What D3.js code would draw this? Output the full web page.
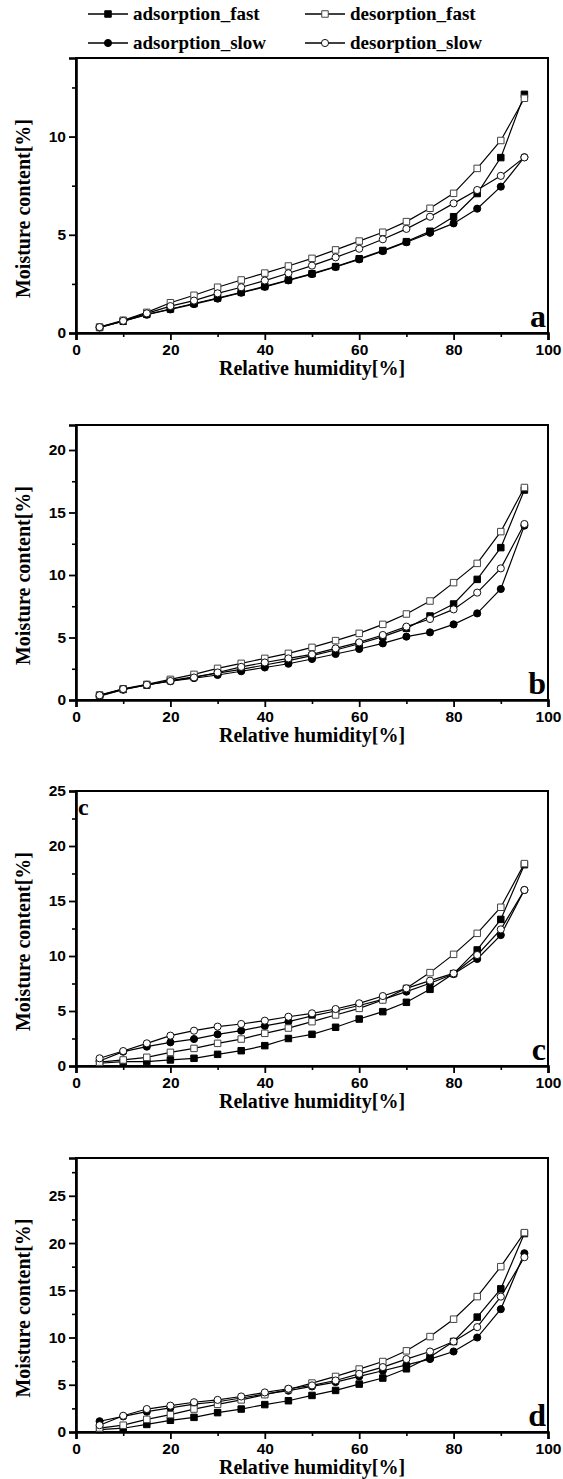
<!DOCTYPE html>
<html>
<head>
<meta charset="utf-8">
<script src="https://cdn.jsdelivr.net/npm/d3@7"></script>
<style>
  body { margin: 0; background: #fff; }
  svg { display: block; }
</style>
</head>
<body>
<svg id="chart"></svg>
<script>
const rh = [5, 10, 15, 20, 25, 30, 35, 40, 45, 50, 55, 60, 65, 70, 75, 80, 85, 90, 95];
const seriesNames = ["adsorption_fast", "adsorption_slow", "desorption_fast", "desorption_slow"];

// panel a
const aAdsFast = [0.28, 0.6, 0.95, 1.22, 1.5, 1.78, 2.07, 2.37, 2.7, 3.02, 3.38, 3.78, 4.2, 4.65, 5.18, 5.92, 7.1, 8.93, 12.15];
const aAdsSlow = [0.28, 0.6, 0.93, 1.2, 1.47, 1.75, 2.05, 2.35, 2.68, 3.0, 3.36, 3.75, 4.17, 4.62, 5.1, 5.58, 6.33, 7.45, 8.95];
const aDesFast = [0.3, 0.65, 1.05, 1.54, 1.92, 2.33, 2.7, 3.05, 3.41, 3.8, 4.23, 4.68, 5.13, 5.67, 6.35, 7.11, 8.38, 9.8, 11.95];
const aDesSlow = [0.3, 0.62, 1.0, 1.37, 1.65, 2.02, 2.33, 2.67, 3.04, 3.43, 3.85, 4.29, 4.77, 5.3, 5.92, 6.6, 7.28, 8.0, 8.94];

// panel b
const bAdsFast = [0.35, 0.85, 1.2, 1.55, 1.85, 2.15, 2.45, 2.8, 3.15, 3.55, 4.0, 4.5, 5.07, 5.73, 6.72, 7.68, 9.65, 12.19, 16.8];
const bAdsSlow = [0.3, 0.82, 1.2, 1.5, 1.75, 2.0, 2.3, 2.6, 2.9, 3.28, 3.68, 4.08, 4.53, 5.07, 5.41, 6.05, 6.93, 8.88, 13.95];
const bDesFast = [0.4, 0.9, 1.25, 1.65, 2.05, 2.53, 2.93, 3.33, 3.73, 4.21, 4.75, 5.33, 6.05, 6.88, 7.92, 9.39, 10.93, 13.47, 17.0];
const bDesSlow = [0.38, 0.88, 1.22, 1.52, 1.8, 2.2, 2.65, 3.0, 3.33, 3.65, 4.13, 4.61, 5.2, 5.87, 6.48, 7.25, 8.59, 10.53, 14.08];

// panel c
const cAdsFast = [0.25, 0.4, 0.4, 0.55, 0.7, 1.06, 1.39, 1.85, 2.5, 2.88, 3.52, 4.27, 4.94, 5.79, 6.97, 8.4, 10.55, 13.33, 18.3];
const cAdsSlow = [0.45, 1.3, 1.76, 2.15, 2.45, 2.88, 3.21, 3.64, 4.03, 4.55, 5.0, 5.5, 6.06, 6.76, 7.52, 8.36, 9.73, 11.9, 16.0];
const cDesFast = [0.35, 0.55, 0.79, 1.24, 1.6, 2.06, 2.45, 2.97, 3.45, 4.03, 4.64, 5.24, 6.0, 7.06, 8.49, 10.15, 12.06, 14.43, 18.4];
const cDesSlow = [0.7, 1.36, 2.06, 2.76, 3.21, 3.58, 3.82, 4.12, 4.48, 4.79, 5.18, 5.7, 6.36, 7.06, 7.76, 8.42, 10.09, 12.42, 16.0];

// panel d
const dAdsFast = [0.25, 0.4, 0.8, 1.24, 1.55, 2.05, 2.43, 2.9, 3.31, 3.87, 4.4, 5.07, 5.71, 6.69, 7.93, 9.58, 12.16, 15.15, 21.0];
const dAdsSlow = [1.14, 1.65, 2.15, 2.55, 2.95, 3.2, 3.6, 4.0, 4.37, 4.82, 5.28, 5.88, 6.48, 7.11, 7.72, 8.52, 10.0, 13.0, 18.92];
const dDesFast = [0.42, 0.72, 1.34, 1.84, 2.43, 2.93, 3.4, 3.95, 4.5, 5.18, 5.88, 6.66, 7.46, 8.59, 10.1, 11.94, 14.33, 17.5, 21.1];
const dDesSlow = [0.72, 1.72, 2.43, 2.79, 3.15, 3.4, 3.76, 4.19, 4.58, 4.93, 5.45, 6.16, 6.87, 7.72, 8.52, 9.58, 11.1, 14.33, 18.5];

const panelLetters = ["a", "b", "c", "d"];
const yMaxes = [14, 22, 25, 29];
const yMajorTicks = [[0, 5, 10], [0, 5, 10, 15, 20], [0, 5, 10, 15, 20, 25], [0, 5, 10, 15, 20, 25]];
const xMajorTicks = [0, 20, 40, 60, 80, 100];
const xMinorTicks = [10, 30, 50, 70, 90];
const xTitle = "Relative humidity[%]";
const yTitle = "Moisture content[%]";

const panelData = [
  [aAdsFast, aAdsSlow, aDesFast, aDesSlow],
  [bAdsFast, bAdsSlow, bDesFast, bDesSlow],
  [cAdsFast, cAdsSlow, cDesFast, cDesSlow],
  [dAdsFast, dAdsSlow, dDesFast, dDesSlow]
];

const W = 563, H = 1479;
const LEFT = 76, RIGHT = 548;
const PANELS = [
  {top: 58, bottom: 333},
  {top: 425, bottom: 700},
  {top: 791, bottom: 1066},
  {top: 1158, bottom: 1432}
];
const SERIF = "'Liberation Serif', 'Times New Roman', serif";
const SANS = "'Liberation Sans', Arial, sans-serif";

// marker look per series: shape + fill
const MARKERS = [
  {shape: d3.symbolSquare, fill: "#000", stroke: "#000"},
  {shape: d3.symbolCircle, fill: "#000", stroke: "#000"},
  {shape: d3.symbolSquare, fill: "#fff", stroke: "#444"},
  {shape: d3.symbolCircle, fill: "#fff", stroke: "#111"}
];
const SYM_SIZE = {square: 42, circle: 40};

const svg = d3.select("#chart").attr("width", W).attr("height", H);

const x = d3.scaleLinear().domain([0, 100]).range([LEFT, RIGHT]);

function symbolPath(i) {
  const m = MARKERS[i];
  const size = m.shape === d3.symbolSquare ? SYM_SIZE.square : SYM_SIZE.circle;
  return d3.symbol().type(m.shape).size(size)();
}

function drawPanel(p) {
  const box = PANELS[p];
  const y = d3.scaleLinear().domain([0, yMaxes[p]]).range([box.bottom, box.top]);
  const g = svg.append("g");

  // frame
  g.append("rect")
    .attr("x", LEFT).attr("y", box.top)
    .attr("width", RIGHT - LEFT).attr("height", box.bottom - box.top)
    .attr("fill", "none").attr("stroke", "#000").attr("stroke-width", 2);

  // minor ticks
  const yMinor = d3.range(2.5, yMaxes[p], 5);
  g.append("g")
    .attr("transform", `translate(${LEFT},0)`)
    .call(d3.axisLeft(y).tickValues(yMinor).tickSize(4).tickFormat(""))
    .call(s => s.select(".domain").remove())
    .call(s => s.selectAll("line").attr("stroke-width", 1.6));
  g.append("g")
    .attr("transform", `translate(0,${box.bottom})`)
    .call(d3.axisBottom(x).tickValues(xMinorTicks).tickSize(4).tickFormat(""))
    .call(s => s.select(".domain").remove())
    .call(s => s.selectAll("line").attr("stroke-width", 1.6));

  // major ticks + labels
  const yAx = g.append("g")
    .attr("transform", `translate(${LEFT},0)`)
    .call(d3.axisLeft(y).tickValues(yMajorTicks[p]).tickSize(7).tickPadding(3).tickFormat(d3.format("d")));
  const xAx = g.append("g")
    .attr("transform", `translate(0,${box.bottom})`)
    .call(d3.axisBottom(x).tickValues(xMajorTicks).tickSize(7).tickPadding(4).tickFormat(d3.format("d")));
  [yAx, xAx].forEach(ax => {
    ax.select(".domain").attr("stroke-width", 2.6);
    ax.selectAll("line").attr("stroke-width", 1.8);
    ax.selectAll("text")
      .attr("font-family", SANS).attr("font-weight", "bold")
      .attr("font-size", 15.5).attr("fill", "#000");
  });

  // axis titles
  g.append("text")
    .attr("x", (LEFT + RIGHT) / 2).attr("y", box.bottom + 42)
    .attr("text-anchor", "middle")
    .attr("font-family", SERIF).attr("font-weight", "bold").attr("font-size", 20)
    .text(xTitle);
  const cy = (box.top + box.bottom) / 2 + 13;
  g.append("text")
    .attr("transform", `translate(30,${cy}) rotate(-90)`)
    .attr("text-anchor", "middle")
    .attr("font-family", SERIF).attr("font-weight", "bold").attr("font-size", 20)
    .text(yTitle);

  // series
  const line = d3.line().x((d, i) => x(rh[i])).y(d => y(d));
  panelData[p].forEach((vals, si) => {
    g.append("path")
      .datum(vals)
      .attr("d", line)
      .attr("fill", "none").attr("stroke", "#000").attr("stroke-width", 1.2);
  });
  panelData[p].forEach((vals, si) => {
    g.append("g").selectAll("path")
      .data(vals)
      .join("path")
      .attr("transform", (d, i) => `translate(${x(rh[i])},${y(d)})`)
      .attr("d", symbolPath(si))
      .attr("fill", MARKERS[si].fill)
      .attr("stroke", MARKERS[si].stroke)
      .attr("stroke-width", 1);
  });

  // panel letter
  g.append("text")
    .attr("x", RIGHT - 2).attr("y", box.bottom - 6)
    .attr("text-anchor", "end")
    .attr("font-family", SERIF).attr("font-weight", "bold").attr("font-size", 32)
    .text(panelLetters[p]);
  if (p === 2) {
    g.append("text")
      .attr("x", LEFT + 2).attr("y", box.top + 24)
      .attr("font-family", SERIF).attr("font-weight", "bold").attr("font-size", 24)
      .text(panelLetters[p]);
  }
}

d3.range(4).forEach(drawPanel);

// legend
const legendCols = [88, 305];
const legendRows = [20, 49];
seriesNames.forEach((name, i) => {
  const col = i < 2 ? 0 : 1;
  const row = i % 2;
  const lx = legendCols[col], ly = legendRows[row] - 6;
  const lg = svg.append("g");
  lg.append("line")
    .attr("x1", lx).attr("x2", lx + 40).attr("y1", ly).attr("y2", ly)
    .attr("stroke", "#000").attr("stroke-width", 1.5);
  lg.append("path")
    .attr("transform", `translate(${lx + 20},${ly})`)
    .attr("d", symbolPath(i))
    .attr("fill", MARKERS[i].fill)
    .attr("stroke", MARKERS[i].stroke)
    .attr("stroke-width", 1);
  lg.append("text")
    .attr("x", lx + 45).attr("y", legendRows[row])
    .attr("font-family", SERIF).attr("font-weight", "bold").attr("font-size", 19)
    .text(name);
});
</script>
</body>
</html>
